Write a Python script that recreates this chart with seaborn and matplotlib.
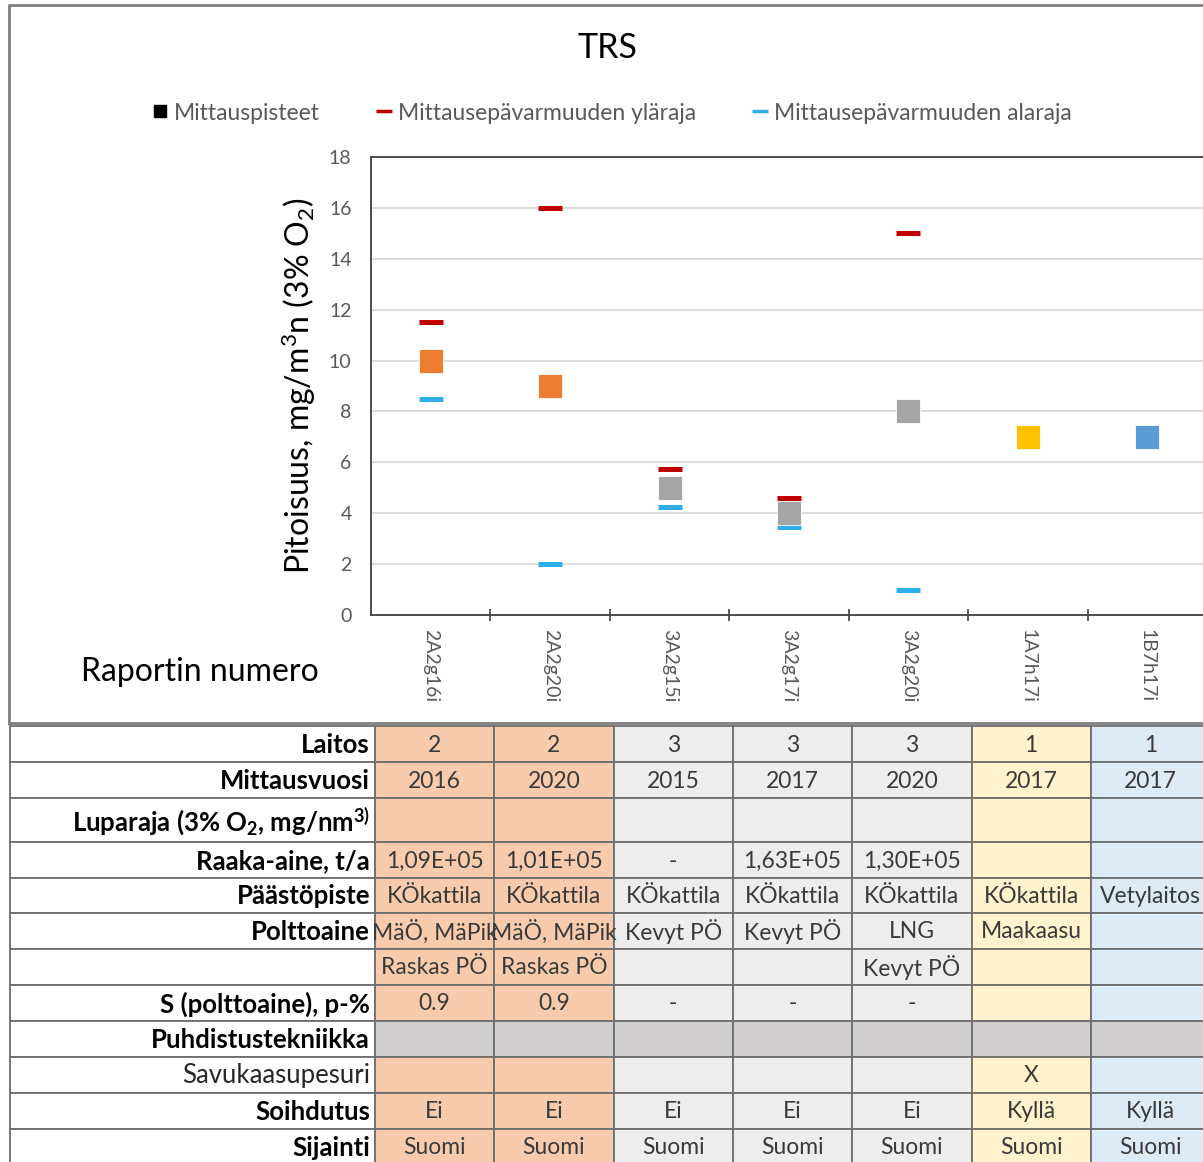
import matplotlib
matplotlib.use("Agg")
import matplotlib.pyplot as plt
from matplotlib.patches import Rectangle
from matplotlib.lines import Line2D
import seaborn as sns
import pandas as pd
import numpy as np

# --- data ---
reports = ['2A2g16i', '2A2g20i', '3A2g15i', '3A2g17i', '3A2g20i', '1A7h17i', '1B7h17i']
measured = [10, 9, 5, 4, 8, 7, 7]
upper = [11.5, 16, 5.75, 4.6, 15, np.nan, np.nan]
lower = [8.5, 2, 4.25, 3.45, 1, np.nan, np.nan]
plant = ['2', '2', '3', '3', '3', '1A', '1B']

row_labels = ['Laitos', 'Mittausvuosi', 'Luparaja (3% O$_\\mathbf{2}$, mg/nm$^\\mathbf{3)}$',
              'Raaka-aine, t/a', 'Päästöpiste', 'Polttoaine', '',
              'S (polttoaine), p-%', 'Puhdistustekniikka', 'Savukaasupesuri',
              'Soihdutus', 'Sijainti']
laitos = ['2', '2', '3', '3', '3', '1', '1']
vuosi = ['2016', '2020', '2015', '2017', '2020', '2017', '2017']
luparaja = ['', '', '', '', '', '', '']
raaka = ['1,09E+05', '1,01E+05', '-', '1,63E+05', '1,30E+05', '', '']
piste = ['KÖkattila'] * 6 + ['Vetylaitos']
polttoaine = ['MäÖ, MäPik', 'MäÖ, MäPik', 'Kevyt PÖ', 'Kevyt PÖ', 'LNG', 'Maakaasu', '']
polttoaine2 = ['Raskas PÖ', 'Raskas PÖ', '', '', 'Kevyt PÖ', '', '']
rikki = ['0.9', '0.9', '-', '-', '-', '', '']
puhdistus = [''] * 7
pesuri = ['', '', '', '', '', 'X', '']
soihdutus = ['Ei'] * 5 + ['Kyllä', 'Kyllä']
sijainti = ['Suomi'] * 7
table_rows = [laitos, vuosi, luparaja, raaka, piste, polttoaine, polttoaine2,
              rikki, puhdistus, pesuri, soihdutus, sijainti]

# --- style ---
marker_colors = {'2': '#ED7D31', '3': '#A5A5A5', '1A': '#FFC000', '1B': '#5B9BD5'}
cell_colors = {'2': '#F8CBAD', '3': '#EDEDED', '1A': '#FFF2CC', '1B': '#DDEBF7'}
upper_color = '#C00000'
lower_color = '#2EAEEA'

sns.set_theme(style='white')
plt.rcParams['font.family'] = ['Lato', 'DejaVu Sans']
plt.rcParams['mathtext.fontset'] = 'custom'
plt.rcParams['mathtext.rm'] = 'Lato'
plt.rcParams['mathtext.it'] = 'Lato:italic'
plt.rcParams['mathtext.bf'] = 'Lato:bold'

W, H = 1203, 1162
fig = plt.figure(figsize=(W / 100, H / 100), dpi=100)

# overlay axes in pixel coordinates for the table and frame
ax_t = fig.add_axes([0, 0, 1, 1])
ax_t.set_xlim(0, W)
ax_t.set_ylim(H, 0)
ax_t.axis('off')

# chart frame
ax_t.plot([9, 9, W + 5], [724, 5, 5], color='#7F7F7F', lw=2)
ax_t.plot([9, W + 5], [723, 723], color='#7F7F7F', lw=2)

# table
label_left, label_right, col_w = 10, 375, 119.3
row_h = [36, 36, 44, 36, 35, 36, 36, 36, 36, 36, 36, 36]
y0 = 726
grid_c = '#6E6E6E'
for r, (lab, vals) in enumerate(zip(row_labels, table_rows)):
    top = y0 + sum(row_h[:r])
    h = row_h[r]
    ax_t.add_patch(Rectangle((label_left, top), label_right - label_left, h,
                             facecolor='white', edgecolor=grid_c, lw=1.3))
    weight = 'normal' if lab == 'Savukaasupesuri' else 'bold'
    ax_t.text(label_right - 5, top + h / 2 + 1, lab, ha='right', va='center',
              fontsize=18.5, fontweight=weight,
              color='#262626' if weight == 'normal' else 'black')
    for c, v in enumerate(vals):
        x = label_right + c * col_w
        fc = '#D0CECE' if row_labels[r] == 'Puhdistustekniikka' else cell_colors[plant[c]]
        cell = Rectangle((x, top), col_w, h, facecolor=fc, edgecolor=grid_c, lw=1.3)
        ax_t.add_patch(cell)
        if v:
            t = ax_t.text(x + col_w / 2, top + h / 2 + 1, v, ha='center', va='center',
                          fontsize=16.5, color='#3A3A3A')
            t.set_clip_path(cell)

# --- chart ---
ax = fig.add_axes([371 / W, 1 - 615 / H, 836 / W, 458 / H])
pos = np.arange(len(reports))
df = pd.DataFrame({'pos': pos, 'report': reports, 'value': measured,
                   'upper': upper, 'lower': lower, 'plant': plant})

sns.scatterplot(data=df, x='pos', y='upper', marker='_', s=300, color=upper_color,
                linewidth=3.6, ax=ax, zorder=3, legend=False)
sns.scatterplot(data=df, x='pos', y='lower', marker='_', s=300, color=lower_color,
                linewidth=3.6, ax=ax, zorder=3, legend=False)
sns.scatterplot(data=df, x='pos', y='value', hue='plant', palette=marker_colors,
                marker='s', s=300, edgecolor='white', linewidth=0.6, ax=ax,
                zorder=4, legend=False)

ax.set_xlim(-0.5, len(reports) - 0.5)
ax.set_ylim(0, 18)
ax.set_yticks(np.arange(0, 19, 2))
ax.yaxis.grid(True, color='#D9D9D9', lw=1.3)
ax.set_axisbelow(True)
ax.set_xticks(pos)
ax.set_xticklabels(reports, rotation=270, fontsize=14, color='#595959', va='top')
ax.set_xticks(pos[:-1] + 0.5, minor=True)
ax.tick_params(axis='x', which='major', length=0, pad=10)
ax.tick_params(axis='x', which='minor', length=8, width=1.2, color='#404040',
               direction='inout', bottom=True)
ax.tick_params(axis='y', labelsize=14, labelcolor='#595959', length=0, pad=14)
for s in ['left', 'bottom', 'top']:
    ax.spines[s].set_color('#404040')
    ax.spines[s].set_linewidth(1.3)
ax.spines['right'].set_visible(False)
ax.set_xlabel('')
ax.set_ylabel('Pitoisuus, mg/m$^3$n (3% O$_2$)', fontsize=23, color='black', labelpad=8)

fig.text(607 / W, 1 - 48 / H, 'TRS', ha='center', va='center', fontsize=24.5, color='black')
fig.text(200 / W, 1 - 672 / H, 'Raportin numero', ha='center', va='center', fontsize=23,
         color='black')

handles = [Line2D([], [], ls='none', marker='s', ms=9, color='black'),
           Line2D([], [], ls='none', marker='_', ms=11, mew=2.5, color=upper_color),
           Line2D([], [], ls='none', marker='_', ms=11, mew=2.5, color=lower_color)]
fig.legend(handles, ['Mittauspisteet', 'Mittausepävarmuuden yläraja',
                     'Mittausepävarmuuden alaraja'],
           loc='center', bbox_to_anchor=(611 / W, 1 - 113 / H), ncol=3, frameon=False,
           fontsize=16.5, labelcolor='#595959', handletextpad=0.2, columnspacing=2.4,
           handlelength=0.8)

fig.savefig('out.png', dpi=100)
